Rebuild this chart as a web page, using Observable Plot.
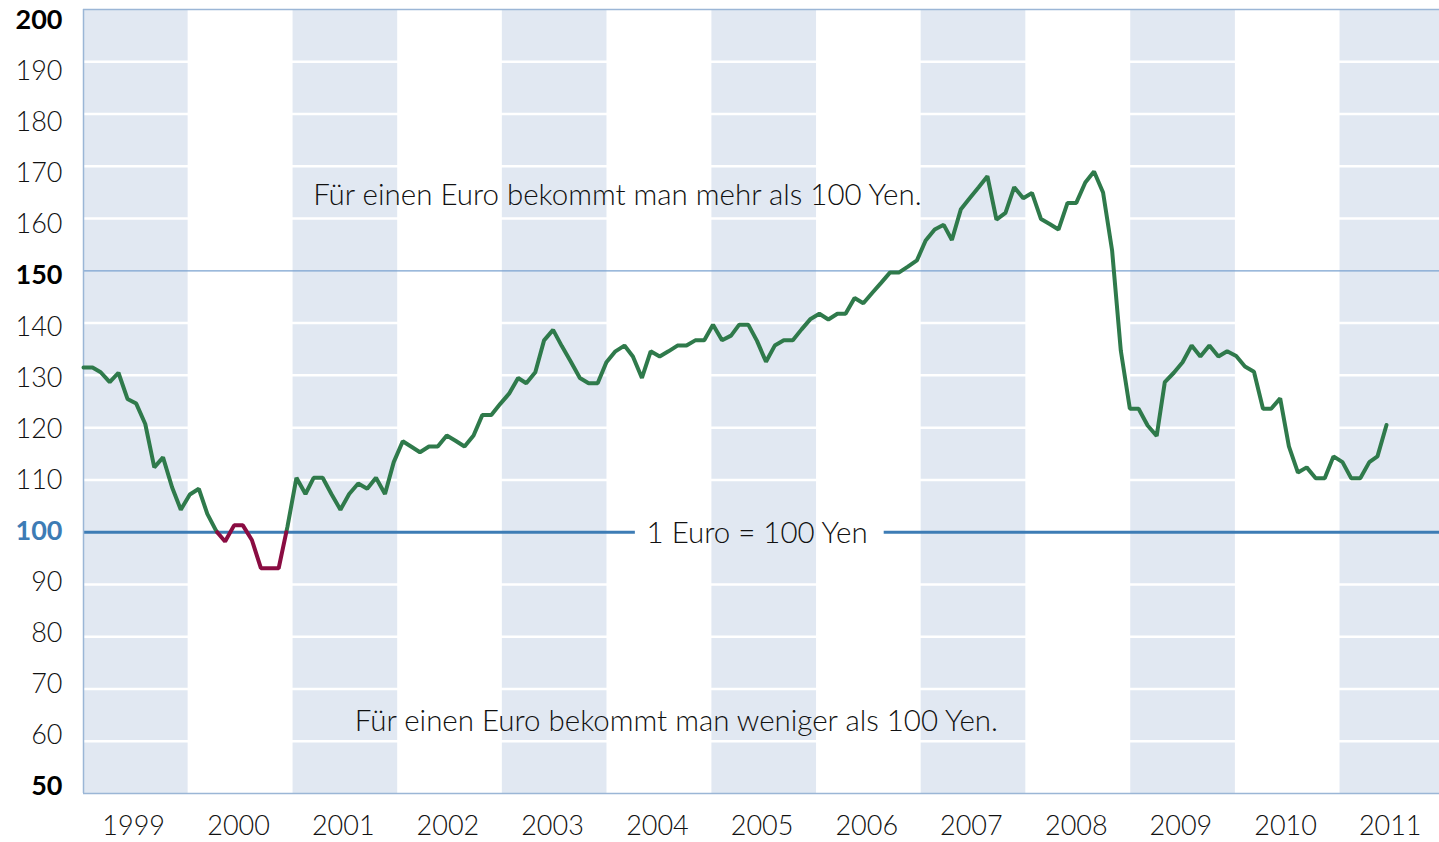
<!DOCTYPE html>
<html>
<head>
<meta charset="utf-8">
<script src="https://cdn.jsdelivr.net/npm/d3@7"></script>
<script src="https://cdn.jsdelivr.net/npm/@observablehq/plot@0.6"></script>
<style>
  html, body { margin: 0; padding: 0; background: #ffffff; }
  #chart { position: relative; width: 1439px; height: 842px; overflow: hidden; }
  #chart svg { position: absolute; left: 0; top: 0; overflow: visible; }
</style>
</head>
<body>
<div id="chart"></div>
<script>
// ---------- data ----------
const firstMonth = "1999-01-01";     // monthly values, Jan 1999 – Apr 2011
const rates = [
  // 1999
  131.5, 131.5, 130.6, 128.7, 130.5, 125.5, 124.6, 120.7, 112.4, 114.3, 108.6, 104.3,
  // 2000
  107.2, 108.3, 103.5, 100.2, 98.2, 101.3, 101.3, 98.5, 93.1, 93.1, 93.1, 101.0,
  // 2001
  110.4, 107.3, 110.4, 110.4, 107.3, 104.3, 107.3, 109.3, 108.3, 110.4, 107.3, 113.4,
  // 2002
  117.4, 116.3, 115.3, 116.4, 116.4, 118.5, 117.5, 116.4, 118.5, 122.4, 122.4, 124.5,
  // 2003
  126.5, 129.5, 128.5, 130.6, 136.7, 138.7, 135.6, 132.6, 129.5, 128.5, 128.5, 132.5,
  // 2004
  134.6, 135.7, 133.6, 129.5, 134.6, 133.6, 134.6, 135.7, 135.7, 136.7, 136.7, 139.7,
  // 2005
  136.7, 137.6, 139.7, 139.7, 136.6, 132.6, 135.7, 136.7, 136.7, 138.8, 140.8, 141.8,
  // 2006
  140.7, 141.8, 141.8, 144.8, 143.8, 145.8, 147.7, 149.7, 149.7, 150.8, 152.0, 155.8,
  // 2007
  157.9, 158.8, 155.9, 161.8, 163.9, 166.0, 168.1, 159.8, 161.1, 166.0, 163.9, 164.9,
  // 2008
  159.9, 158.9, 157.9, 163.0, 163.0, 166.9, 169.0, 165.0, 153.9, 134.7, 123.6, 123.6,
  // 2009
  120.4, 118.4, 128.7, 130.5, 132.5, 135.7, 133.6, 135.7, 133.6, 134.6, 133.7, 131.7,
  // 2010
  130.7, 123.6, 123.6, 125.6, 116.4, 111.4, 112.4, 110.3, 110.3, 114.5, 113.4, 110.3,
  // 2011
  110.3, 113.4, 114.5, 120.5
];
const parity = 100;
const years = [1999, 2000, 2001, 2002, 2003, 2004, 2005, 2006, 2007, 2008, 2009, 2010, 2011];
const shadedYears = [1999, 2001, 2003, 2005, 2007, 2009, 2011];
const yTicksRegular = [60, 70, 80, 90, 110, 120, 130, 140, 160, 170, 180, 190];
const yTicksBold = [50, 150, 200];
const yTicksParity = [100];
const gridValues = [60, 70, 80, 90, 110, 120, 130, 140, 160, 170, 180, 190];
const annotations = [
  { text: "Für einen Euro bekommt man mehr als 100 Yen.", date: "2001-03-12", value: 164.4 },
  { text: "Für einen Euro bekommt man weniger als 100 Yen.", date: "2001-08-04", value: 63.8 },
  { text: "1 Euro = 100 Yen", date: "2004-05-18", value: 99.8 }
];
const parityLine = [
  { from: "1999-01-01", to: "2004-04-09" },
  { from: "2006-08-25", to: "2011-12-14" }
];

// ---------- style ----------
const W = 1439, H = 842;
const FONT = "Lato, 'Open Sans', sans-serif";
const BAND = "#e1e8f2";
const GREEN = "#2f7a4b";
const MAROON = "#8a0c42";
const BLUE = "#3d7cb5";
const FRAME = "#9bb6d6";
const TEXT = "#111111";

// ---------- derived ----------
const start = new Date(firstMonth);
const points = rates.map((v, i) => ({ date: d3.utcMonth.offset(start, i), value: v }));
// maroon = period in which the euro fell to or below parity (first drop below 100 until recovery)
const belowIdx = points.map((p, i) => p.value < parity ? i : -1).filter(i => i >= 0);
function crossing(a, b) {
  const t = (parity - a.value) / (b.value - a.value);
  return { date: new Date(+a.date + t * (b.date - a.date)), value: parity };
}
const i0 = belowIdx[0], i1 = belowIdx[belowIdx.length - 1];
const cIn = crossing(points[i0 - 1], points[i0]);
const cOut = crossing(points[i1], points[i1 + 1]);
const greenA = [...points.slice(0, i0), cIn].map(d => ({ ...d, seg: "a" }));
const maroon = [cIn, ...points.slice(i0, i1 + 1), cOut].map(d => ({ ...d, seg: "m" }));
const greenB = [cOut, ...points.slice(i1 + 1)].map(d => ({ ...d, seg: "b" }));
const greenRows = [...greenA, ...greenB];

const yearStart = y => new Date(Date.UTC(y, 0, 1));
const midYear = y => new Date(Date.UTC(y, 6, 2));

// ---------- base layer: bands, grid, frame, texts, x axis ----------
const base = Plot.plot({
  width: W, height: H,
  marginTop: 9, marginBottom: 49, marginLeft: 83, marginRight: 0,
  x: { type: "utc", domain: [start, new Date("2011-12-14")] },
  y: { domain: [50, 200], axis: null },
  style: { fontFamily: FONT, background: "transparent", color: TEXT, overflow: "visible" },
  marks: [
    Plot.rect(shadedYears, { x1: yearStart, x2: y => yearStart(y + 1), fill: BAND, clip: true }),
    Plot.ruleY(gridValues, { stroke: "#ffffff", strokeWidth: 2.5 }),
    Plot.ruleY([150], { stroke: "#7aa2cf", strokeWidth: 1.2 }),
    Plot.ruleY(parityLine, { y: parity, x1: d => new Date(d.from), x2: d => new Date(d.to), stroke: BLUE, strokeWidth: 3 }),
    Plot.ruleX([start], { stroke: FRAME, strokeWidth: 1.5 }),
    Plot.ruleY([50, 200], { stroke: FRAME, strokeWidth: 1.5 }),
    Plot.text(annotations, {
      x: d => new Date(d.date), y: "value", text: "text",
      textAnchor: "start", fontSize: 29.5, fill: TEXT, fontWeight: 300
    }),
    Plot.axisX(years.map(midYear), {
      tickFormat: "%Y", tickSize: 0, tickPadding: 22, fontSize: 27, fontWeight: 300, color: TEXT, label: null, dx: -2
    })
  ]
});

// ---------- line layer ----------
const lines = Plot.plot({
  width: W, height: H,
  marginTop: 9, marginBottom: 49, marginLeft: 83, marginRight: 53,
  x: { type: "utc", domain: [points[0].date, points[points.length - 1].date], axis: null },
  y: { domain: [50, 200], axis: null },
  style: { background: "transparent", overflow: "visible" },
  marks: [
    Plot.line(greenRows, { x: "date", y: "value", z: "seg", stroke: GREEN, strokeWidth: 4, strokeLinejoin: "miter" }),
    Plot.line(maroon, { x: "date", y: "value", stroke: MAROON, strokeWidth: 4, strokeLinejoin: "miter" })
  ]
});

// ---------- y-label layer ----------
const axisOpts = { tickSize: 0, tickPadding: 21, fontSize: 27, label: null };
const labels = Plot.plot({
  width: 100, height: H,
  marginTop: 20, marginBottom: 56, marginLeft: 83, marginRight: 0,
  y: { domain: [50, 200] },
  style: { fontFamily: FONT, background: "transparent", overflow: "visible" },
  marks: [
    Plot.axisY(yTicksRegular, { ...axisOpts, color: TEXT, fontWeight: 300 }),
    Plot.axisY(yTicksBold, { ...axisOpts, color: "#000000", fontWeight: "bold" }),
    Plot.axisY(yTicksParity, { ...axisOpts, color: BLUE, fontWeight: "bold" })
  ]
});

const chart = document.getElementById("chart");
chart.append(base, lines, labels);
</script>
</body>
</html>
